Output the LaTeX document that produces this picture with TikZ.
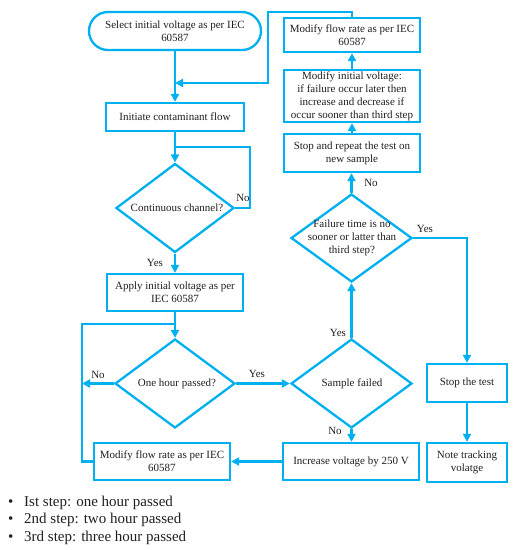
\documentclass[tikz,border=0pt]{standalone}
\usepackage{fontspec}
\setmainfont{Liberation Serif}
\usetikzlibrary{arrows.meta,shapes.geometric}
\definecolor{fc}{HTML}{00B0F0}
\definecolor{tc}{HTML}{231F20}
\begin{document}
\begin{tikzpicture}[x=1pt,y=-1pt,
 line/.style={draw=fc,line width=2.3pt},
 arr/.style={line,-{Triangle[length=8pt,width=8pt]}},
 box/.style={draw=fc,line width=2.3pt,rectangle,inner sep=0,align=center,text=tc,font=\fontsize{11}{13}\selectfont},
 dia/.style={draw=fc,line width=2.3pt,diamond,inner sep=0},
 txt/.style={text=tc,font=\fontsize{11}{13}\selectfont,align=center,inner sep=0},
 lbl/.style={text=tc,font=\fontsize{11}{13}\selectfont,inner sep=0},
 note/.style={text=tc,font=\fontsize{15}{17.5}\selectfont,inner sep=0,anchor=base west}]
\useasboundingbox[fill=white] (0,0) rectangle (517,550);

% left column
\node[box,rounded corners=19pt,minimum width=172pt,minimum height=38pt] (start) at (175,31) {Select initial voltage as per IEC\\60587};
\node[box,minimum width=138pt,minimum height=28pt] (init) at (175,117) {Initiate contaminant flow};
\node[dia,minimum width=118pt,minimum height=89pt] (cc) at (175,208) {};
\node[txt] (cct) at (177,208) {Continuous channel?};
\node[box,minimum width=136pt,minimum height=37pt] (apply) at (175,292.5) {Apply initial voltage as per\\IEC 60587};
\node[dia,minimum width=120pt,minimum height=89pt] (oh) at (175,383.5) {};
\node[txt] (oht) at (177,383.5) {One hour passed?};
\node[box,minimum width=136pt,minimum height=37pt] (mfr2) at (162,461.5) {Modify flow rate as per IEC\\60587};

% middle column
\node[box,minimum width=136pt,minimum height=34pt] (mfr1) at (352,35) {Modify flow rate as per IEC\\60587};
\node[box,minimum width=136pt,minimum height=52pt] (miv) at (352,96) {Modify initial voltage:\\ if failure occur later then\\ increase and decrease if\\ occur sooner than third step};
\node[box,minimum width=136pt,minimum height=38pt] (sr) at (352,153) {Stop and repeat the test on\\new sample};
\node[dia,minimum width=121pt,minimum height=88pt] (fail) at (351.5,238) {};
\node[txt] (failt) at (352,238) {Failure time is no\\sooner or latter than\\third step?};
\node[dia,minimum width=121pt,minimum height=89pt] (sf) at (351.5,383.5) {};
\node[txt] (sft) at (352,383.5) {Sample failed};
\node[box,minimum width=136pt,minimum height=37pt] (inc) at (351,461.5) {Increase voltage by 250 V};

% right column
\node[box,minimum width=80pt,minimum height=38pt] (st) at (467,383) {Stop the test};
\node[box,minimum width=80pt,minimum height=39pt] (nt) at (467,462.5) {Note tracking\\volatge};

% coordinates
\coordinate (j1) at (175,83);
\coordinate (c1) at (268,12);
\coordinate (j2) at (175,147);
\coordinate (c2) at (250,147);
\coordinate (j3) at (175,324);
\coordinate (c3) at (82,383.5);
\coordinate (c4) at (82,324);

% connectors
\draw[arr] (start.south) -- (init.north);
\draw[arr] (mfr1.north) |- (c1) |- (j1);
\draw[arr] (init.south) -- (cc.north);
\draw[line] (cc.east) -| (c2) -- (j2);
\draw[arr] (cc.south) -- (apply.north);
\draw[arr] (apply.south) -- (oh.north);
\draw[arr] (oh.west) -- (c3);
\draw[line] (mfr2.west) -| (c4) -- (j3);
\draw[arr] (oh.east) -- (sf.west);
\draw[arr] (sf.north) -- (fail.south);
\draw[arr] (fail.north) -- (fail.north |- sr.south);
\draw[arr] (sr.north) -- (miv.south);
\draw[arr] (miv.north) -- (mfr1.south);
\draw[arr] (fail.east) -| (st.north);
\draw[arr] (st.south) -- (nt.north);
\draw[arr] (sf.south) -- (sf.south |- inc.north);
\draw[arr] (inc.west) -- (mfr2.east);

% labels
\node[lbl] (lno1) at (243,198) {No};
\node[lbl] (lyes1) at (155,263) {Yes};
\node[lbl] (lno2) at (98,375) {No};
\node[lbl] (lyes2) at (257,374) {Yes};
\node[lbl] (lyes3) at (338,333) {Yes};
\node[lbl] (lno3) at (371,183) {No};
\node[lbl] (lyes4) at (425,229) {Yes};
\node[lbl] (lno4) at (335,431) {No};

% notes
\node[note] (n1) at (8,506) {\makebox[16pt][l]{\textbullet}Ist step: one hour passed};
\node[note] (n2) at (8,523.5) {\makebox[16pt][l]{\textbullet}2nd step: two hour passed};
\node[note] (n3) at (8,541) {\makebox[16pt][l]{\textbullet}3rd step: three hour passed};
\end{tikzpicture}
\end{document}
